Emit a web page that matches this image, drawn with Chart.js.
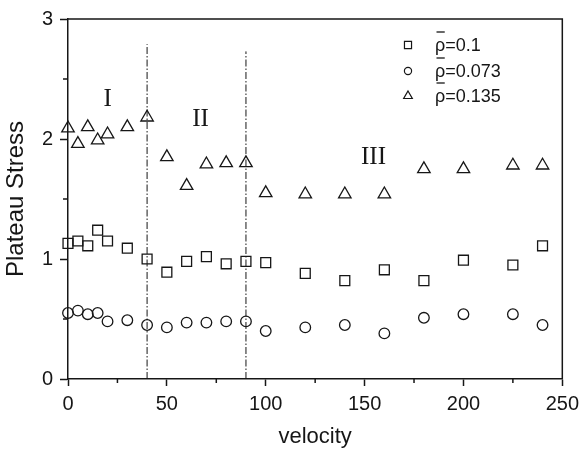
<!DOCTYPE html>
<html>
<head>
<meta charset="utf-8">
<script src="https://cdn.jsdelivr.net/npm/chart.js@4.4.1/dist/chart.umd.min.js"></script>
<style>
  html, body { margin: 0; padding: 0; background: #fff; }
  #wrap { width: 585px; height: 454px; }
</style>
</head>
<body>
<div id="wrap"><canvas id="myChart" width="585" height="454"></canvas></div>
<script>
// velocities shared by all three series
const velocity = [0, 5, 10, 15, 20, 30, 40, 50, 60, 70, 80, 90, 100, 120, 140, 160, 180, 200, 225, 240];

// plateau stress per relative density
const rho010 = [1.13, 1.15, 1.11, 1.24, 1.15, 1.09, 1.00, 0.89, 0.98, 1.02, 0.96, 0.98, 0.97, 0.88, 0.82, 0.91, 0.82, 0.99, 0.95, 1.11];
const rho0073 = [0.55, 0.57, 0.54, 0.55, 0.48, 0.49, 0.45, 0.43, 0.47, 0.47, 0.48, 0.48, 0.40, 0.43, 0.45, 0.38, 0.51, 0.54, 0.54, 0.45];
const rho0135 = [2.09, 1.96, 2.10, 1.99, 2.04, 2.10, 2.18, 1.85, 1.61, 1.79, 1.80, 1.80, 1.55, 1.54, 1.54, 1.54, 1.75, 1.75, 1.78, 1.78];

const seriesLabels = ['0.1', '0.073', '0.135'];
const seriesStyles = ['rect', 'circle', 'triangle'];

// regime boundaries (dash-dot lines) and labels
const boundaryX = [40, 90];
const boundaryTop = [2.79, 2.73];
const regimeNames = ['I', 'II', 'III'];
const regimeX = [20, 67, 154.5];
const regimeY = [2.33, 2.165, 1.85];

const xMinorTicks = [25, 75, 125, 175, 225];
const yMinorTicks = [0.5, 1.5, 2.5];

const toPoints = ys => ys.map((y, i) => ({ x: velocity[i], y: y }));

const ink = '#161616';

const datasets = [
    { label: seriesLabels[0], data: toPoints(rho010), pointStyle: 'rect', pointRadius: 7 },
    { label: seriesLabels[1], data: toPoints(rho0073), pointStyle: 'circle', pointRadius: 5.3 },
    { label: seriesLabels[2], data: toPoints(rho0135), pointStyle: 'triangle', pointRadius: 7.2 }
].map(d => Object.assign(d, {
    type: 'scatter',
    borderColor: ink,
    backgroundColor: 'rgba(0,0,0,0)',
    borderWidth: 1.3,
    pointHoverRadius: d.pointRadius,
    clip: false
}));

boundaryX.forEach((bx, i) => {
    datasets.push({
        type: 'line',
        label: 'boundary' + i,
        data: [{ x: bx, y: 0 }, { x: bx, y: boundaryTop[i] }],
        borderColor: ink,
        borderWidth: 1,
        borderDash: [7, 2, 1.5, 2],
        pointRadius: 0,
        fill: false
    });
});

const extras = {
    id: 'extras',
    afterDraw(chart) {
        const ctx = chart.ctx;
        const a = chart.chartArea;
        const xs = chart.scales.x, ys = chart.scales.y;
        ctx.save();
        // frame top and right
        ctx.strokeStyle = ink;
        ctx.lineWidth = 1.5;
        ctx.beginPath();
        ctx.moveTo(a.left, a.top);
        ctx.lineTo(a.right, a.top);
        ctx.lineTo(a.right, a.bottom);
        ctx.stroke();

        // minor ticks
        ctx.beginPath();
        xMinorTicks.forEach(v => {
            const px = xs.getPixelForValue(v);
            ctx.moveTo(px, a.bottom);
            ctx.lineTo(px, a.bottom + 4);
        });
        yMinorTicks.forEach(v => {
            const py = ys.getPixelForValue(v);
            ctx.moveTo(a.left, py);
            ctx.lineTo(a.left - 5, py);
        });
        ctx.stroke();

        // regime labels
        ctx.fillStyle = ink;
        ctx.font = '25px "Liberation Serif", serif';
        ctx.textAlign = 'center';
        ctx.textBaseline = 'middle';
        regimeNames.forEach((n, i) => {
            ctx.fillText(n, xs.getPixelForValue(regimeX[i]), ys.getPixelForValue(regimeY[i]));
        });

        // legend
        const lx = 408, tx = 435;
        const rows = [45, 71, 96];
        ctx.font = '18px "Liberation Sans", Arial, sans-serif';
        ctx.textAlign = 'left';
        seriesLabels.forEach((lab, i) => {
            const y = rows[i];
            ctx.fillStyle = '#fff';
            ctx.lineWidth = 1.2;
            Chart.helpers.drawPoint(ctx, { pointStyle: seriesStyles[i], radius: i === 1 ? 3.6 : 5, borderWidth: 1.2 }, lx, y);
            ctx.fillStyle = ink;
            ctx.fillText('\u03c1=' + lab, tx, y + 1);
            const w = ctx.measureText('\u03c1').width;
            ctx.beginPath();
            ctx.moveTo(tx + 1.5, y - 13);
            ctx.lineTo(tx + w - 0.5, y - 13);
            ctx.lineWidth = 1.3;
            ctx.stroke();
        });
        ctx.restore();
    }
};

const tickFont = { family: '"Liberation Sans", Arial, sans-serif', size: 20 };
const titleFont = { family: '"Liberation Sans", Arial, sans-serif', size: 22 };

new Chart(document.getElementById('myChart'), {
    data: { datasets: datasets },
    options: {
        responsive: false,
        animation: false,
        layout: { padding: { top: 16, right: 20, left: 0, bottom: 0 } },
        plugins: { legend: { display: false }, tooltip: { enabled: false } },
        scales: {
            x: {
                type: 'linear',
                min: 0, max: 250,
                border: { color: ink, width: 1.5 },
                grid: { drawOnChartArea: false, tickLength: 7, tickColor: ink, tickWidth: 1.5 },
                ticks: { stepSize: 50, color: ink, font: tickFont, padding: 6, maxRotation: 0 },
                title: { display: true, text: 'velocity', color: ink, font: titleFont, padding: { top: 4, bottom: 4 } },
                afterFit: s => { s.height = 75; }
            },
            y: {
                type: 'linear',
                min: 0, max: 3,
                border: { color: ink, width: 1.5 },
                grid: { drawOnChartArea: false, tickLength: 8, tickColor: ink, tickWidth: 1.5 },
                ticks: { stepSize: 1, color: ink, font: tickFont, padding: 7 },
                title: { display: true, text: 'Plateau Stress', color: ink, font: { family: titleFont.family, size: 24 }, padding: { top: 2, bottom: 4 } },
                afterFit: s => { s.width = 68; }
            }
        }
    },
    plugins: [extras]
});
</script>
</body>
</html>
